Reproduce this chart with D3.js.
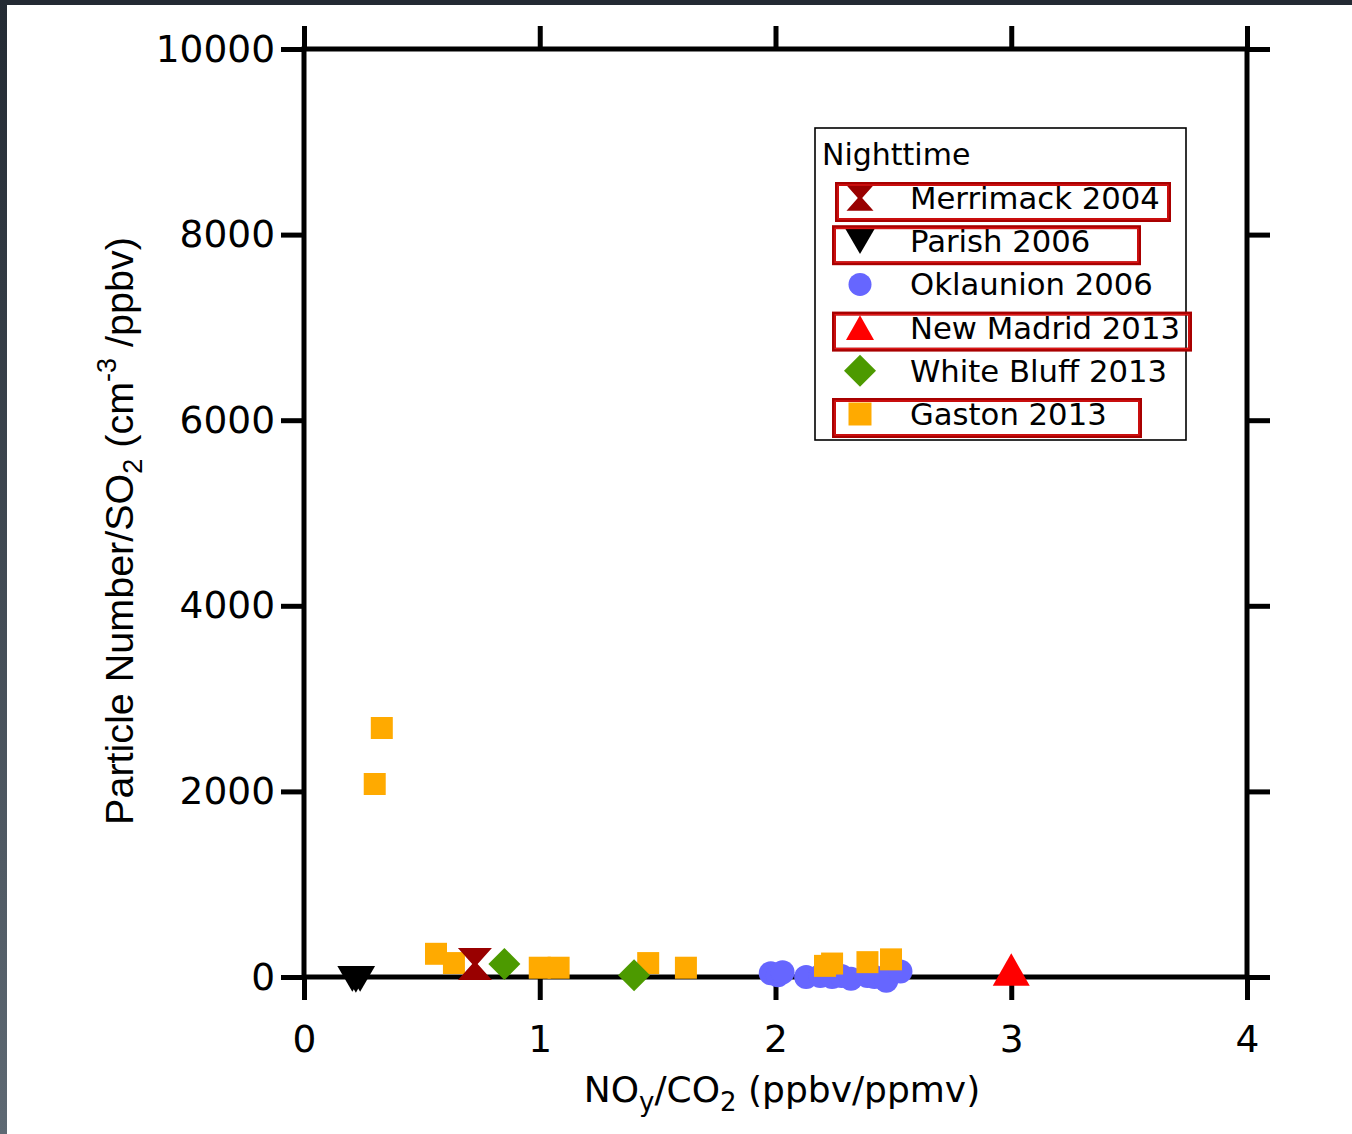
<!DOCTYPE html>
<html>
<head>
<meta charset="utf-8">
<script src="https://cdn.jsdelivr.net/npm/d3@7"></script>
<style>
  html, body { margin: 0; padding: 0; background: #ffffff; }
  svg { display: block; }
</style>
</head>
<body>
<svg id="chart" width="1352" height="1134"></svg>
<script>
// ---- data (NOy/CO2 in ppbv/ppmv, particle number / SO2 in cm^-3/ppbv) ----
const seriesNames = ["Merrimack 2004", "Parish 2006", "Oklaunion 2006", "New Madrid 2013", "White Bluff 2013", "Gaston 2013"];

const merrimackX = [0.725];
const merrimackY = [140];

const parishX = [0.205, 0.22, 0.238];
const parishY = [-20, -30, -20];

const oklaunionX = [1.98, 2.01, 2.03, 2.13, 2.19, 2.24, 2.28, 2.32, 2.39, 2.42, 2.47, 2.53];
const oklaunionY = [40, 20, 50, 0, 10, 0, 10, -20, 10, 0, -40, 60];

const newMadridX = [3.0];
const newMadridY = [80];

const whiteBluffX = [0.85, 1.40];
const whiteBluffY = [140, 20];

const gastonX = [0.30, 0.33, 0.56, 0.636, 1.00, 1.08, 1.46, 1.62, 2.21, 2.24, 2.39, 2.49];
const gastonY = [2080, 2683, 250, 150, 100, 100, 150, 100, 120, 145, 160, 190];

const xTicks = [0, 1, 2, 3, 4];
const yTicks = [0, 2000, 4000, 6000, 8000, 10000];

const highlighted = ["Merrimack 2004", "Parish 2006", "New Madrid 2013", "Gaston 2013"];

// ---- series styling ----
const series = [
  { name: "Oklaunion 2006",   xs: oklaunionX,  ys: oklaunionY,  shape: "circle",   color: "#6666ff", size: 24, legendSize: 23 },
  { name: "Gaston 2013",      xs: gastonX,     ys: gastonY,     shape: "square",   color: "#ffaa00", size: 22, legendSize: 23 },
  { name: "Parish 2006",      xs: parishX,     ys: parishY,     shape: "triDown",  color: "#000000", size: 30, legendSize: 30 },
  { name: "New Madrid 2013",  xs: newMadridX,  ys: newMadridY,  shape: "triUp",    color: "#ff0000", size: 37, legendSize: 28 },
  { name: "Merrimack 2004",   xs: merrimackX,  ys: merrimackY,  shape: "hourglass",color: "#990000", size: 34, legendSize: 27 },
  { name: "White Bluff 2013", xs: whiteBluffX, ys: whiteBluffY, shape: "diamond",  color: "#4c9a00", size: 32, legendSize: 32 }
];

// marker outline centred on (0,0); s = marker width
function markerPath(shape, s) {
  const p = d3.path();
  const h = s / 2;
  switch (shape) {
    case "circle":
      p.arc(0, 0, h, 0, 2 * Math.PI);
      break;
    case "square":
      p.rect(-h, -h, s, s);
      break;
    case "diamond":
      p.moveTo(0, -h); p.lineTo(h, 0); p.lineTo(0, h); p.lineTo(-h, 0); p.closePath();
      break;
    case "triUp": {
      const th = s * 0.88 / 2;
      p.moveTo(0, -th); p.lineTo(h, th); p.lineTo(-h, th); p.closePath();
      break;
    }
    case "triDown": {
      const th = s * 0.86 / 2;
      p.moveTo(-h, -th); p.lineTo(h, -th); p.lineTo(0, th); p.closePath();
      break;
    }
    case "hourglass": {
      const th = s * 0.94 / 2, n = s * 0.08;
      p.moveTo(-h, -th); p.lineTo(h, -th); p.lineTo(n, 0); p.lineTo(h, th);
      p.lineTo(-h, th); p.lineTo(-n, 0); p.closePath();
      break;
    }
  }
  return p.toString();
}

const svg = d3.select("#chart");
const W = 1352, H = 1134;
const plot = { left: 304, right: 1247, top: 49, bottom: 977 };

// window frame edges
const defs = svg.append("defs");
const grad = defs.append("linearGradient").attr("id", "edgeGrad")
  .attr("x1", 0).attr("y1", 0).attr("x2", 0).attr("y2", 1);
grad.append("stop").attr("offset", "0%").attr("stop-color", "#232a33");
grad.append("stop").attr("offset", "100%").attr("stop-color", "#5e6973");
svg.append("rect").attr("x", 0).attr("y", 0).attr("width", W).attr("height", 5).attr("fill", "#232a33");
svg.append("rect").attr("x", 0).attr("y", 0).attr("width", 7).attr("height", H).attr("fill", "url(#edgeGrad)");

const x = d3.scaleLinear().domain([0, 4]).range([plot.left, plot.right]);
const y = d3.scaleLinear().domain([0, 10000]).range([plot.bottom, plot.top]);

const tickFont = "'DejaVu Sans', Verdana, sans-serif";
const lw = 5, tlen = 23;

function styleAxis(g) {
  g.select(".domain").remove();
  g.selectAll(".tick line").attr("stroke", "#000").attr("stroke-width", lw);
  g.selectAll(".tick text").attr("fill", "#000").attr("font-family", tickFont).attr("font-size", 37.5);
}

svg.append("g").attr("transform", `translate(0,${plot.bottom})`)
  .call(d3.axisBottom(x).tickValues(xTicks).tickSize(tlen).tickPadding(25).tickFormat(d3.format("d")))
  .call(styleAxis);
svg.append("g").attr("transform", `translate(0,${plot.top})`)
  .call(d3.axisTop(x).tickValues(xTicks).tickSize(tlen).tickFormat(""))
  .call(styleAxis);
svg.append("g").attr("transform", `translate(${plot.left},0)`)
  .call(d3.axisLeft(y).tickValues(yTicks).tickSize(tlen).tickPadding(6).tickFormat(d3.format("d")))
  .call(styleAxis);
svg.append("g").attr("transform", `translate(${plot.right},0)`)
  .call(d3.axisRight(y).tickValues(yTicks).tickSize(tlen).tickFormat(""))
  .call(styleAxis);

svg.append("rect")
  .attr("x", plot.left).attr("y", plot.top)
  .attr("width", plot.right - plot.left).attr("height", plot.bottom - plot.top)
  .attr("fill", "none").attr("stroke", "#000").attr("stroke-width", lw);

// data markers
series.forEach(s => {
  const pts = s.xs.map((v, i) => [v, s.ys[i]]);
  svg.append("g").selectAll("path").data(pts).join("path")
    .attr("d", markerPath(s.shape, s.size))
    .attr("transform", d => `translate(${x(d[0])},${y(d[1])})`)
    .attr("fill", s.color);
});

// axis titles
const xt = svg.append("text")
  .attr("x", 782).attr("y", 1102)
  .attr("text-anchor", "middle")
  .attr("font-family", tickFont).attr("font-size", 36).attr("fill", "#000");
xt.append("tspan").text("NO");
xt.append("tspan").attr("font-size", 26).attr("dy", 9).text("y");
xt.append("tspan").attr("dy", -9).text("/CO");
xt.append("tspan").attr("font-size", 26).attr("dy", 9).text("2");
xt.append("tspan").attr("dy", -9).text(" (ppbv/ppmv)");

const yt = svg.append("text")
  .attr("transform", "translate(133,531) rotate(-90)")
  .attr("text-anchor", "middle")
  .attr("font-family", "'Liberation Sans', Arial, Helvetica, sans-serif")
  .attr("font-size", 39.5).attr("fill", "#000");
yt.append("tspan").text("Particle Number/SO");
yt.append("tspan").attr("font-size", 27).attr("dy", 9).text("2");
yt.append("tspan").attr("dy", -9).text(" (cm");
yt.append("tspan").attr("font-size", 27).attr("dy", -17).text("-3");
yt.append("tspan").attr("dy", 17).text(" /ppbv)");

// legend
const legend = svg.append("g");
legend.append("rect")
  .attr("x", 815).attr("y", 128).attr("width", 371).attr("height", 312)
  .attr("fill", "#fff").attr("stroke", "#000").attr("stroke-width", 1.6);
legend.append("text")
  .attr("x", 822).attr("y", 165)
  .attr("font-family", tickFont).attr("font-size", 30).attr("fill", "#000")
  .text("Nighttime");

const rowY = i => 209 + i * 43.2;
const byName = new Map(series.map(s => [s.name, s]));
seriesNames.forEach((name, i) => {
  const s = byName.get(name);
  legend.append("path")
    .attr("d", markerPath(s.shape, s.legendSize))
    .attr("transform", `translate(860,${rowY(i) - 11})`)
    .attr("fill", s.color);
  legend.append("text")
    .attr("x", 910).attr("y", rowY(i))
    .attr("font-family", tickFont).attr("font-size", 30.7).attr("fill", "#000")
    .text(name);
});

// red highlight boxes around selected legend entries
const boxSpans = { "Merrimack 2004": [837, 1169], "Parish 2006": [834, 1139], "New Madrid 2013": [834, 1190], "Gaston 2013": [834, 1140] };
highlighted.forEach(name => {
  const i = seriesNames.indexOf(name);
  const [x0, x1] = boxSpans[name];
  const top = rowY(i) - 25, h = 36;
  legend.append("rect")
    .attr("x", x0).attr("y", top).attr("width", x1 - x0).attr("height", h)
    .attr("fill", "none").attr("stroke", "#a80000").attr("stroke-width", 4);
  legend.append("rect")
    .attr("x", x0 + 1).attr("y", top + 1).attr("width", x1 - x0 - 2).attr("height", h - 2)
    .attr("fill", "none").attr("stroke", "#e01818").attr("stroke-width", 1.2);
});
</script>
</body>
</html>
